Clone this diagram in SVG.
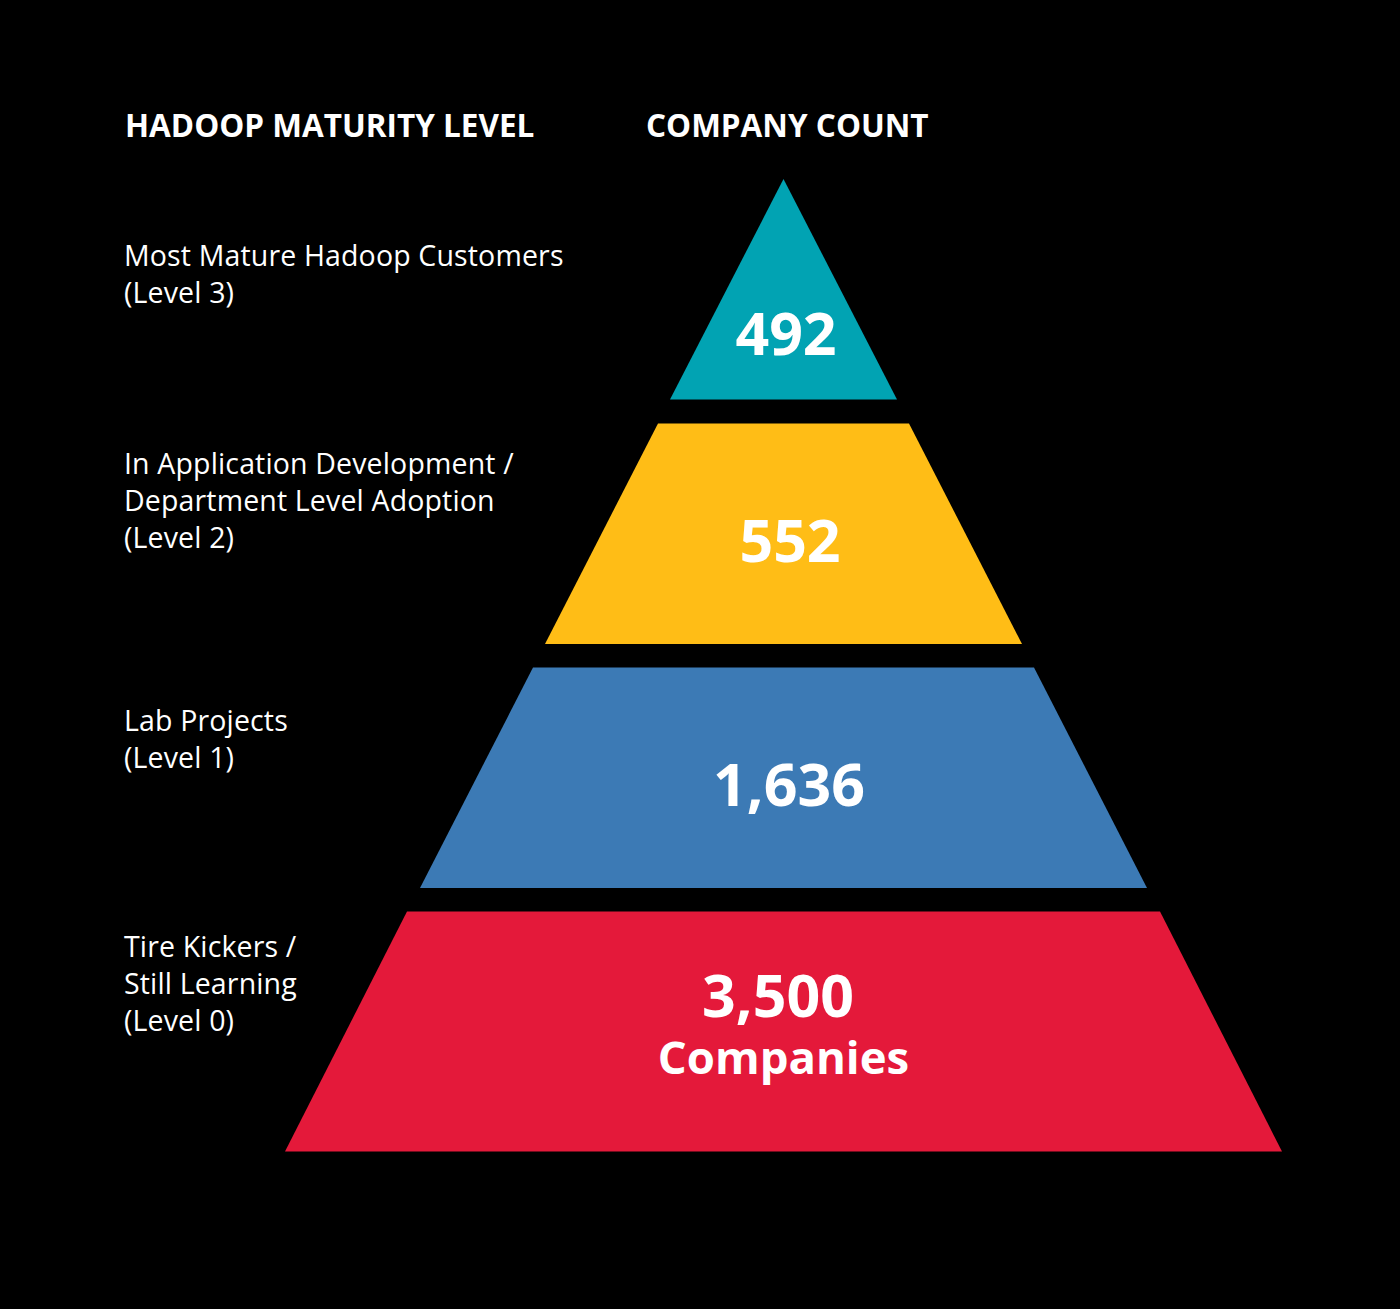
<svg xmlns="http://www.w3.org/2000/svg" width="1400" height="1309" viewBox="0 0 1400 1309">
<style>
.hdr{font-family:"Open Sans","Liberation Sans",sans-serif;font-weight:700;font-size:31.5px;fill:#fff}
.lbl{font-family:"Open Sans","Liberation Sans",sans-serif;font-size:28.5px;letter-spacing:0.15px;fill:#fff}
.num{font-family:"Open Sans","Liberation Sans",sans-serif;font-weight:700;font-size:59px;fill:#fff;text-anchor:middle}
.sub{font-family:"Open Sans","Liberation Sans",sans-serif;font-weight:700;font-size:45.5px;fill:#fff;text-anchor:middle}
</style>
<rect width="1400" height="1309" fill="#000"/>
<g id="headers">
<text class="hdr" x="125" y="137">HADOOP MATURITY LEVEL</text>
<text class="hdr" x="646" y="137">COMPANY COUNT</text>
</g>
<g id="labels">
<text class="lbl" x="124" y="266">Most Mature Hadoop Customers</text>
<text class="lbl" x="124" y="303">(Level 3)</text>
<text class="lbl" x="124" y="474">In Application Development /</text>
<text class="lbl" x="124" y="511">Department Level Adoption</text>
<text class="lbl" x="124" y="548">(Level 2)</text>
<text class="lbl" x="124" y="731">Lab Projects</text>
<text class="lbl" x="124" y="768">(Level 1)</text>
<text class="lbl" x="124" y="957">Tire Kickers /</text>
<text class="lbl" x="124" y="994">Still Learning</text>
<text class="lbl" x="124" y="1031">(Level 0)</text>
</g>
<g id="level3">
<polygon points="783.5,179 897,399.5 670,399.5" fill="#01A3B3"/>
<text class="num" x="786" y="355">492</text>
</g>
<g id="level2">
<polygon points="658,423.5 909,423.5 1022,644 545,644" fill="#FFBD16"/>
<text class="num" x="790" y="562">552</text>
</g>
<g id="level1">
<polygon points="533,667.5 1034,667.5 1147,888 420,888" fill="#3C7AB5"/>
<text class="num" x="789" y="806">1,636</text>
</g>
<g id="level0">
<polygon points="407,911.5 1160,911.5 1282,1151.5 285,1151.5" fill="#E4193A"/>
<text class="num" x="778" y="1017">3,500</text>
<text class="sub" x="783.5" y="1074">Companies</text>
</g>
<g id="connectors"/>
</svg>
